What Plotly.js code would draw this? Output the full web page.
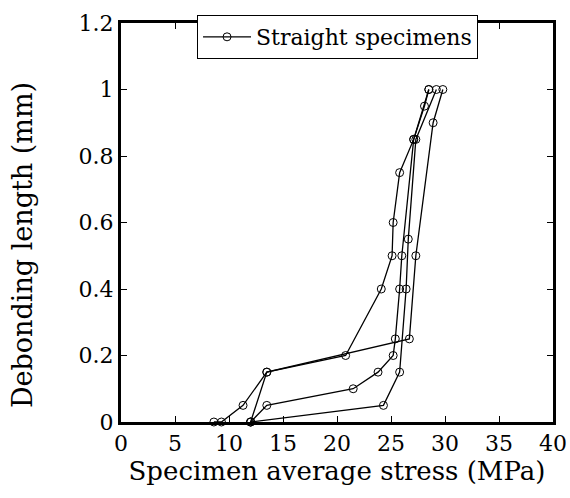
<!DOCTYPE html>
<html>
<head>
<meta charset="utf-8">
<script src="https://cdn.plot.ly/plotly-3.0.1.min.js"></script>
<style>html,body{margin:0;padding:0;background:#fff;}#chart{width:570px;height:498px;}</style>
</head>
<body>
<div id="chart"></div>
<script>
// Specimen series (stress MPa, debonding length mm)
const stressA = [8.6, 9.3, 11.3, 13.5, 20.8, 24.1, 25.1, 25.2, 25.8, 27.1, 28.1, 28.5];
const lengthA = [0, 0, 0.05, 0.15, 0.2, 0.4, 0.5, 0.6, 0.75, 0.85, 0.95, 1.0];
const stressB = [12.0, 13.5, 26.7, 27.3, 28.9, 29.8];
const lengthB = [0, 0.15, 0.25, 0.5, 0.9, 1.0];
const stressC = [12.0, 13.5, 21.5, 23.8, 25.2, 25.4, 25.8, 26.0, 27.1, 28.5];
const lengthC = [0, 0.05, 0.1, 0.15, 0.2, 0.25, 0.4, 0.5, 0.85, 1.0];
const stressD = [12.0, 24.3, 25.8, 26.4, 26.6, 27.3, 29.2];
const lengthD = [0, 0.05, 0.15, 0.4, 0.55, 0.85, 1.0];
const seriesName = "Straight specimens";
const xTitle = "Specimen average stress (MPa)";
const yTitle = "Debonding length (mm)";

const xs = [stressA, stressB, stressC, stressD];
const ys = [lengthA, lengthB, lengthC, lengthD];

const traces = xs.map((x, i) => ({
  x: x, y: ys[i], type: 'scatter', mode: 'lines+markers',
  name: seriesName, showlegend: i === 0,
  line: {color: '#000', width: 1.3},
  marker: {symbol: 'circle-open', size: 8, color: '#000', line: {width: 1, color: '#000'}},
  cliponaxis: false
}));

const font = {family: 'DejaVu Serif', color: '#000'};
const axisCommon = {
  showline: true, linewidth: 3, linecolor: '#000', mirror: 'ticks',
  ticks: 'inside', ticklen: 6, tickwidth: 1, tickcolor: '#000',
  showgrid: false, zeroline: false,
  tickfont: Object.assign({size: 22}, font)
};

const layout = {
  width: 570, height: 498,
  margin: {l: 121, r: 17, t: 23, b: 76},
  paper_bgcolor: '#fff', plot_bgcolor: '#fff',
  font: font,
  xaxis: Object.assign({}, axisCommon, {
    range: [0, 40], dtick: 5, tick0: 0,
    title: {text: xTitle, font: Object.assign({size: 26}, font), standoff: 2}
  }),
  yaxis: Object.assign({}, axisCommon, {
    range: [0, 1.2], dtick: 0.2, tick0: 0
  }),
  annotations: [{
    text: yTitle, xref: 'paper', yref: 'paper',
    x: -0.229, y: 0.4436, xanchor: 'center', yanchor: 'middle',
    textangle: -90, showarrow: false,
    font: Object.assign({size: 27}, font)
  }],
  legend: {
    x: 0.176, y: 1.02, xanchor: 'left', yanchor: 'top',
    bgcolor: '#fff', bordercolor: '#000', borderwidth: 1,
    itemwidth: 48,
    font: Object.assign({size: 22}, font)
  },
  showlegend: true
};

Plotly.newPlot('chart', traces, layout, {displayModeBar: false, staticPlot: true});
</script>
</body>
</html>
